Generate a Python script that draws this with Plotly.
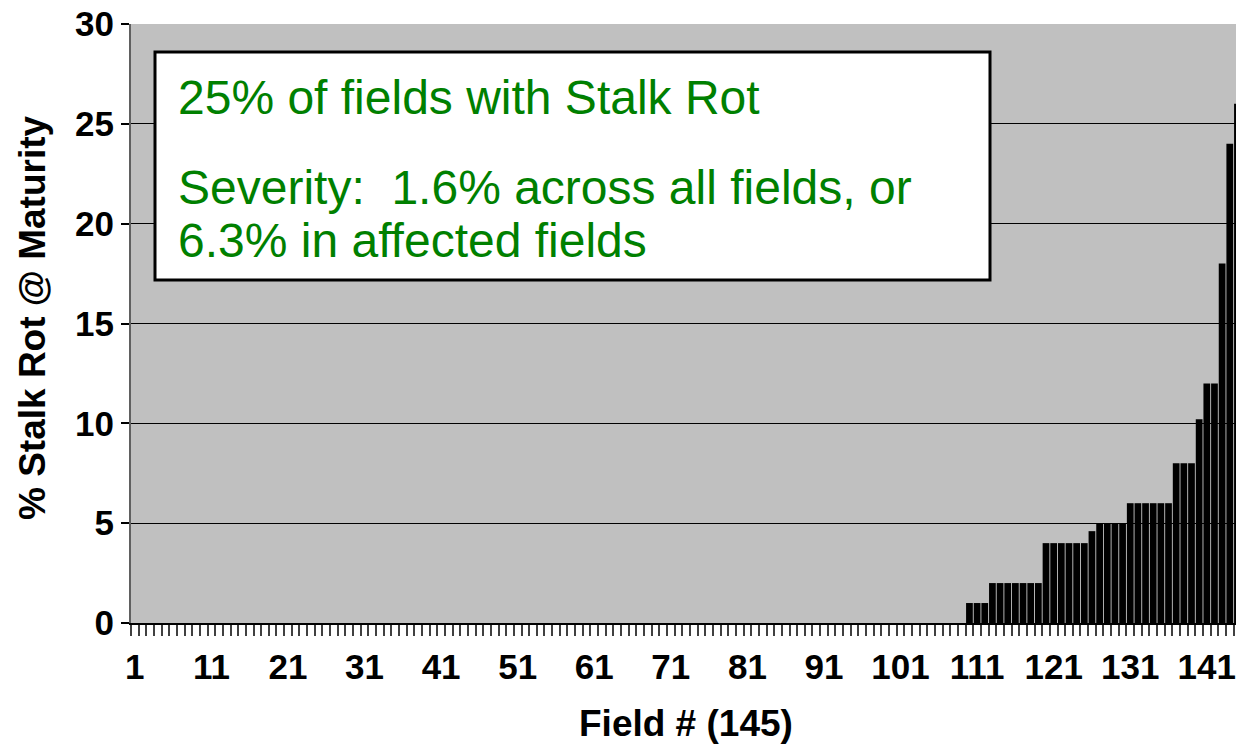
import plotly.graph_objects as go

# Field numbers 1..145
fields = list(range(1, 146))

# % stalk rot at maturity for each field (sorted ascending, as in the chart)
stalk_rot = [
    0, 0, 0, 0, 0, 0, 0, 0, 0, 0, 0, 0, 0, 0, 0, 0, 0, 0, 0, 0,   # 1-20
    0, 0, 0, 0, 0, 0, 0, 0, 0, 0, 0, 0, 0, 0, 0, 0, 0, 0, 0, 0,   # 21-40
    0, 0, 0, 0, 0, 0, 0, 0, 0, 0, 0, 0, 0, 0, 0, 0, 0, 0, 0, 0,   # 41-60
    0, 0, 0, 0, 0, 0, 0, 0, 0, 0, 0, 0, 0, 0, 0, 0, 0, 0, 0, 0,   # 61-80
    0, 0, 0, 0, 0, 0, 0, 0, 0, 0, 0, 0, 0, 0, 0, 0, 0, 0, 0, 0,   # 81-100
    0, 0, 0, 0, 0, 0, 0, 0, 0, 1, 1, 1, 2, 2, 2, 2, 2, 2, 2, 4,   # 101-120
    4, 4, 4, 4, 4, 4.6, 5, 5, 5, 5, 6, 6, 6, 6, 6, 6, 8, 8, 8, 10.2,  # 121-140
    12, 12, 18, 24, 26,                                           # 141-145
]

x_tick_start = 1
x_tick_step = 10
y_ticks = [0, 5, 10, 15, 20, 25, 30]

title_x = "Field # (145)"
title_y = "% Stalk Rot @ Maturity"
note_lines = [
    "25% of fields with Stalk Rot",
    "Severity:\u00a0 1.6% across all fields, or",
    "6.3% in affected fields",
]

FONT = "Liberation Sans, Arial, sans-serif"

W, H = 1236, 745
ML, MR, MT, MB = 131, 0, 24, 122
PW = W - ML - MR
PH = H - MT - MB
cat_w = 7.657  # pixel width of one field slot


def px_x(p):
    return (p - ML) / PW


def px_y(p):
    return (H - MB - p) / PH


fig = go.Figure()
fig.add_trace(go.Bar(
    x=fields,
    y=stalk_rot,
    marker=dict(color="#000000", line=dict(width=0)),
    hoverinfo="x+y",
))

fig.update_layout(
    width=W, height=H,
    margin=dict(l=ML, r=MR, t=MT, b=MB, pad=0),
    paper_bgcolor="white",
    plot_bgcolor="#C0C0C0",
    bargap=0.12,
    showlegend=False,
    font=dict(family=FONT, color="black"),
)

fig.update_xaxes(
    range=[0.5, 0.5 + PW / cat_w],
    tickmode="linear", tick0=x_tick_start, dtick=x_tick_step,
    ticks="outside", ticklen=12, tickcolor="rgba(0,0,0,0)",
    tickfont=dict(family=FONT, size=35, color="black", weight="bold"),
    ticklabeloverflow="allow",
    showgrid=False, zeroline=False,
    showline=True, linecolor="black", linewidth=2,
    minor=dict(tick0=0.5, dtick=1, ticks="outside", ticklen=11,
               tickcolor="#404040", tickwidth=1.5, showgrid=False),
)

fig.update_yaxes(
    range=[0, 30],
    tickmode="array", tickvals=y_ticks,
    ticks="outside", ticklen=8, tickcolor="black", tickwidth=1.5,
    tickfont=dict(family=FONT, size=35, color="black", weight="bold"),
    ticklabeloverflow="allow",
    showgrid=True, gridcolor="black", gridwidth=1,
    zeroline=False,
    showline=True, linecolor="#606060", linewidth=2,
)

# text box
fig.add_shape(type="rect", xref="paper", yref="paper",
              x0=px_x(155), x1=px_x(990), y0=px_y(280), y1=px_y(52),
              line=dict(color="black", width=3), fillcolor="white", layer="above")

for txt, yc in zip(note_lines, [98, 187, 240]):
    fig.add_annotation(text=txt, xref="paper", yref="paper",
                       x=px_x(176), y=px_y(yc), xanchor="left", yanchor="middle",
                       showarrow=False,
                       font=dict(family=FONT, size=48, color="#008000"))

# axis titles
fig.add_annotation(text=title_x, xref="paper", yref="paper",
                   x=px_x(686), y=px_y(723), xanchor="center", yanchor="middle",
                   showarrow=False,
                   font=dict(family=FONT, size=37, color="black", weight="bold"))
fig.add_annotation(text=title_y, xref="paper", yref="paper",
                   x=px_x(32), y=px_y(318), xanchor="center", yanchor="middle",
                   textangle=-90, showarrow=False,
                   font=dict(family=FONT, size=37, color="black", weight="bold"))

fig.write_html(
    "out.html",
    config={"displayModeBar": False},
    post_script="document.body.style.margin='0';document.body.style.overflow='hidden';",
)
